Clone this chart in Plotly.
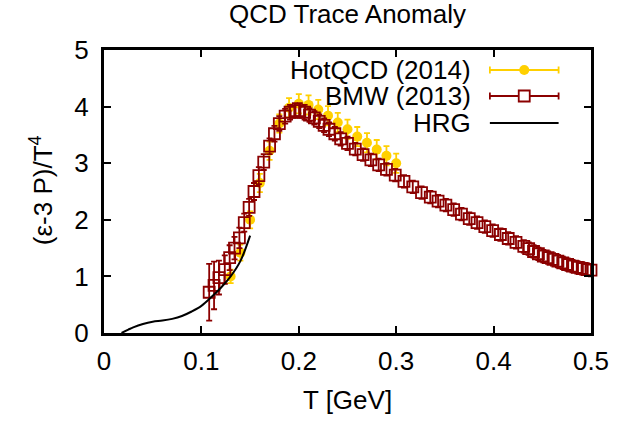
import plotly.graph_objects as go

# ---------------- data ----------------
hot_T = [0.13, 0.14, 0.15, 0.16, 0.17, 0.18, 0.19, 0.20, 0.21, 0.22,
         0.23, 0.24, 0.25, 0.26, 0.27, 0.28, 0.29, 0.30]
hot_v = [1.00, 1.42, 2.00, 2.65, 3.22, 3.70, 3.98, 4.05, 4.03, 3.95,
         3.84, 3.72, 3.60, 3.47, 3.36, 3.24, 3.13, 3.00]
hot_e = [0.12, 0.14, 0.15, 0.16, 0.16, 0.16, 0.17, 0.17, 0.17, 0.17,
         0.17, 0.17, 0.17, 0.17, 0.17, 0.17, 0.17, 0.17]

bmw_T = [0.108, 0.113, 0.118, 0.124, 0.129, 0.134, 0.139, 0.144, 0.149, 0.154,
         0.159, 0.164, 0.170, 0.175, 0.180, 0.186, 0.191, 0.196, 0.201, 0.206,
         0.211, 0.216, 0.221, 0.226, 0.231, 0.237, 0.243, 0.250, 0.258, 0.266,
         0.274, 0.282, 0.290, 0.299, 0.308, 0.317, 0.326, 0.335, 0.343, 0.351,
         0.359, 0.367, 0.375, 0.383, 0.391, 0.399, 0.407, 0.415, 0.423, 0.431,
         0.436, 0.441, 0.446, 0.451, 0.456, 0.461, 0.466, 0.471, 0.476, 0.481,
         0.486, 0.491, 0.496, 0.500]
bmw_v = [0.72, 0.84, 0.98, 1.12, 1.33, 1.50, 1.68, 1.95, 2.22, 2.50,
         2.78, 3.02, 3.30, 3.52, 3.70, 3.83, 3.90, 3.93, 3.93, 3.90,
         3.85, 3.80, 3.74, 3.67, 3.60, 3.52, 3.43, 3.35, 3.25, 3.15,
         3.06, 2.97, 2.89, 2.79, 2.68, 2.58, 2.48, 2.40, 2.33, 2.26,
         2.18, 2.10, 2.02, 1.95, 1.88, 1.81, 1.74, 1.67, 1.60, 1.53,
         1.49, 1.44, 1.40, 1.36, 1.33, 1.30, 1.27, 1.24, 1.21, 1.18,
         1.16, 1.14, 1.12, 1.11]
bmw_e = [0.50, 0.42, 0.30, 0.25, 0.22, 0.20, 0.18, 0.16, 0.15, 0.15,
         0.15, 0.14, 0.14, 0.14, 0.13, 0.13, 0.13, 0.13, 0.13, 0.13,
         0.12, 0.12, 0.12, 0.12, 0.12, 0.12, 0.12, 0.12, 0.11, 0.11,
         0.11, 0.11, 0.11, 0.11, 0.11, 0.11, 0.11, 0.11, 0.11, 0.11,
         0.11, 0.11, 0.11, 0.11, 0.11, 0.11, 0.11, 0.11, 0.11, 0.11,
         0.11, 0.11, 0.11, 0.11, 0.11, 0.11, 0.11, 0.11, 0.11, 0.11,
         0.11, 0.11, 0.11, 0.11]

hrg_T = [0.018, 0.025, 0.03, 0.04, 0.05, 0.06, 0.07, 0.08, 0.09, 0.10,
         0.11, 0.12, 0.13, 0.14, 0.15]
hrg_v = [0.00, 0.06, 0.10, 0.16, 0.20, 0.22, 0.25, 0.30, 0.38, 0.48,
         0.63, 0.80, 1.00, 1.27, 1.72]

x_ticks = [0, 0.1, 0.2, 0.3, 0.4, 0.5]
y_ticks = [0, 1, 2, 3, 4, 5]
labels = ["HotQCD (2014)", "BMW (2013)", "HRG"]

GOLD = "#ffd000"
DRED = "#8b0000"
FONT = "Liberation Sans, Arial, Helvetica, sans-serif"
FS = 26

fig = go.Figure()
fig.add_trace(go.Scatter(
    x=hot_T, y=hot_v, mode="markers", name=labels[0],
    marker=dict(symbol="circle", size=10, color=GOLD),
    error_y=dict(type="data", array=hot_e, color=GOLD, thickness=1.8, width=3),
    showlegend=False))
fig.add_trace(go.Scatter(
    x=bmw_T, y=bmw_v, mode="markers", name=labels[1], cliponaxis=False,
    marker=dict(symbol="square-open", size=11, color=DRED, line=dict(width=1.8, color=DRED)),
    error_y=dict(type="data", array=bmw_e, color=DRED, thickness=1.8, width=3),
    showlegend=False))
fig.add_trace(go.Scatter(
    x=hrg_T, y=hrg_v, mode="lines", name=labels[2],
    line=dict(color="black", width=2, shape="spline"),
    showlegend=False))

W, H = 621, 421
PL, PR, PT, PB = 104, 600, 50, 333          # plot area in pixels
pw, ph = PR - PL, PB - PT
L, T, R, B = PL, PT, W - PR, H - PB


def px(xp):
    return (xp - PL) / pw


def py(yp):
    return (PB - yp) / ph


shapes = []
annotations = []
entry_y = [70, 96, 123]
colors = [GOLD, DRED, "black"]
x0, x1, xc = px(497), px(567), px(532)
for i, (lab, yy, col) in enumerate(zip(labels, entry_y, colors)):
    yv = py(yy)
    annotations.append(dict(text=lab, x=px(480), y=yv, xref="paper", yref="paper",
                            xanchor="right", yanchor="middle", showarrow=False,
                            font=dict(family=FONT, size=FS, color="black")))
    shapes.append(dict(type="line", xref="paper", yref="paper", x0=x0, x1=x1, y0=yv, y1=yv,
                       line=dict(color=col, width=2 if i == 2 else 1.8)))
    if i < 2:
        for xe in (x0, x1):
            shapes.append(dict(type="line", xref="paper", yref="paper", xsizemode="pixel",
                               ysizemode="pixel", xanchor=xe, yanchor=yv, x0=0, x1=0,
                               y0=-3.5, y1=3.5, line=dict(color=col, width=1.8)))
    if i == 0:
        shapes.append(dict(type="circle", xref="paper", yref="paper", xsizemode="pixel",
                           ysizemode="pixel", xanchor=xc, yanchor=yv, x0=-5, x1=5,
                           y0=-5, y1=5, fillcolor=GOLD, line=dict(color=GOLD, width=0)))
    elif i == 1:
        shapes.append(dict(type="rect", xref="paper", yref="paper", xsizemode="pixel",
                           ysizemode="pixel", xanchor=xc, yanchor=yv, x0=-5.5, x1=5.5,
                           y0=-5.5, y1=5.5, fillcolor="white", line=dict(color=DRED, width=1.8)))

annotations.append(dict(text="QCD Trace Anomaly", x=px(352), y=py(14), xref="paper", yref="paper",
                        xanchor="center", yanchor="middle", showarrow=False,
                        font=dict(family=FONT, size=FS, color="black")))
annotations.append(dict(text="T [GeV]", x=px(352), y=py(400), xref="paper", yref="paper",
                        xanchor="center", yanchor="middle", showarrow=False,
                        font=dict(family=FONT, size=FS, color="black")))
annotations.append(dict(text="(ε-3 P)/T<sup>4</sup>", x=px(40), y=py(190), xref="paper", yref="paper",
                        xanchor="center", yanchor="middle", showarrow=False, textangle=-90,
                        font=dict(family=FONT, size=FS, color="black")))

axis_common = dict(showgrid=False, zeroline=False, showline=True, linecolor="black",
                   linewidth=3, mirror="ticks", ticks="inside", ticklen=7, tickwidth=1.5,
                   tickcolor="black", tickfont=dict(family=FONT, size=FS, color="black"))

fig.update_layout(
    width=W, height=H,
    margin=dict(l=L, r=R, t=T, b=B),
    plot_bgcolor="white", paper_bgcolor="white",
    xaxis=dict(range=[0, 0.5], tickvals=x_ticks, ticktext=[f"{v:g}" for v in x_ticks],
               ticklabelstandoff=3, **axis_common),
    yaxis=dict(range=[0, 5], tickvals=y_ticks, ticktext=[str(v) for v in y_ticks],
               ticklabelstandoff=7, **axis_common),
    shapes=shapes, annotations=annotations, showlegend=False,
)

# remove the browser's default 8 px body margin so the figure sits at the page origin
fig.write_html("out.html", config={"displayModeBar": False},
               post_script="document.body.style.margin='0';document.body.style.overflow='hidden';")
